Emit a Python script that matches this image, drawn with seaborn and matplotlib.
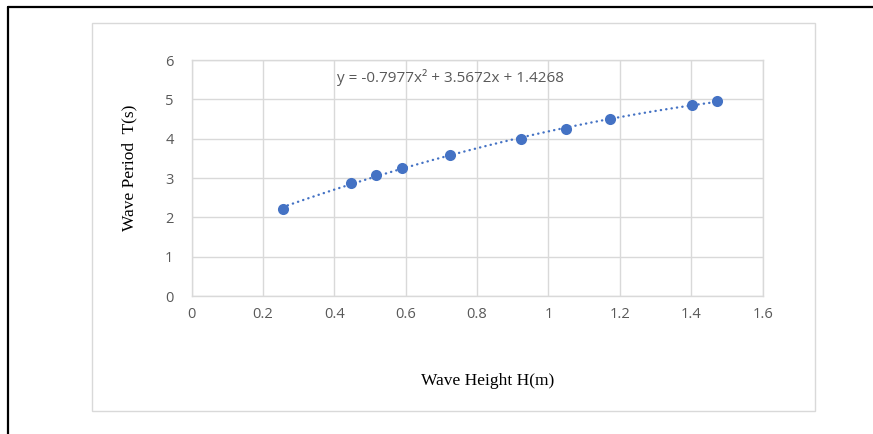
import matplotlib
matplotlib.use("Agg")
import matplotlib.pyplot as plt
from matplotlib.lines import Line2D
from matplotlib.patches import Rectangle
import seaborn as sns
import pandas as pd

wave_height = [0.255, 0.446, 0.517, 0.589, 0.724, 0.922, 1.049, 1.172, 1.401, 1.473]
wave_period = [2.21, 2.87, 3.08, 3.25, 3.59, 4.00, 4.24, 4.49, 4.86, 4.95]
x_ticks = [0, 0.2, 0.4, 0.6, 0.8, 1, 1.2, 1.4, 1.6]
x_tick_labels = ["0", "0.2", "0.4", "0.6", "0.8", "1", "1.2", "1.4", "1.6"]
y_ticks = [0, 1, 2, 3, 4, 5, 6]
equation_text = "y = -0.7977x\u00b2 + 3.5672x + 1.4268"
x_label = "Wave Height H(m)"
y_label = "Wave Period  T(s)"

df = pd.DataFrame({"H": wave_height, "T": wave_period})

sns.set_theme(style="white")
plt.rcParams["font.family"] = ["Open Sans", "DejaVu Sans"]

W, H = 873, 434
fig = plt.figure(figsize=(W / 100, H / 100), dpi=100)
fig.patch.set_facecolor("white")
ax = fig.add_axes([191.6 / W, 1 - 296 / H, (762.6 - 191.6) / W, (296 - 60) / H])

grid_c = "#D9D9D9"
blue = "#4472C4"
txt_c = "#595959"

sns.regplot(data=df, x="H", y="T", order=2, ci=None, scatter=False, ax=ax,
            line_kws=dict(color=blue, lw=1.7, linestyle=(0, (0.1, 2.2)),
                          dash_capstyle="round", zorder=3))
sns.scatterplot(data=df, x="H", y="T", ax=ax, color=blue, s=64,
                edgecolor=blue, linewidth=0, zorder=4)

ax.set_xlim(0, 1.6)
ax.set_ylim(0, 6)
ax.set_xticks(x_ticks)
ax.set_xticklabels(x_tick_labels)
ax.set_yticks(y_ticks)
ax.grid(True, color=grid_c, lw=1.0)
ax.set_axisbelow(True)
for s in ax.spines.values():
    s.set_color(grid_c)
    s.set_linewidth(1.0)
ax.tick_params(axis="both", length=0, colors=txt_c, labelsize=10.5)
ax.tick_params(axis="x", pad=8)
ax.tick_params(axis="y", pad=13)
ax.set_xlabel("")
ax.set_ylabel("")

fig.text(488 / W, 1 - 381 / H, x_label, ha="center", va="center",
         family="Liberation Serif", fontsize=12.5, color="black")
fig.text(129 / W, 1 - 168 / H, y_label, ha="center", va="center", rotation=90,
         family="Liberation Serif", fontsize=12.5, color="black")
fig.text(337 / W, 1 - 77 / H, equation_text, ha="left", va="center",
         fontsize=11, color=txt_c)

# inner chart box
fig.add_artist(Rectangle((92 / W, 1 - 411 / H), (815 - 92) / W, (411 - 23) / H,
                         transform=fig.transFigure, fill=False, ec=grid_c, lw=1.0))
# outer page border lines (top and left)
fig.add_artist(Line2D([8 / W, 1], [1 - 6.5 / H, 1 - 6.5 / H], transform=fig.transFigure,
                      color="black", lw=1.6))
fig.add_artist(Line2D([8 / W, 8 / W], [0, 1 - 6.5 / H], transform=fig.transFigure,
                      color="black", lw=1.6))

fig.savefig("out.png", dpi=100)
